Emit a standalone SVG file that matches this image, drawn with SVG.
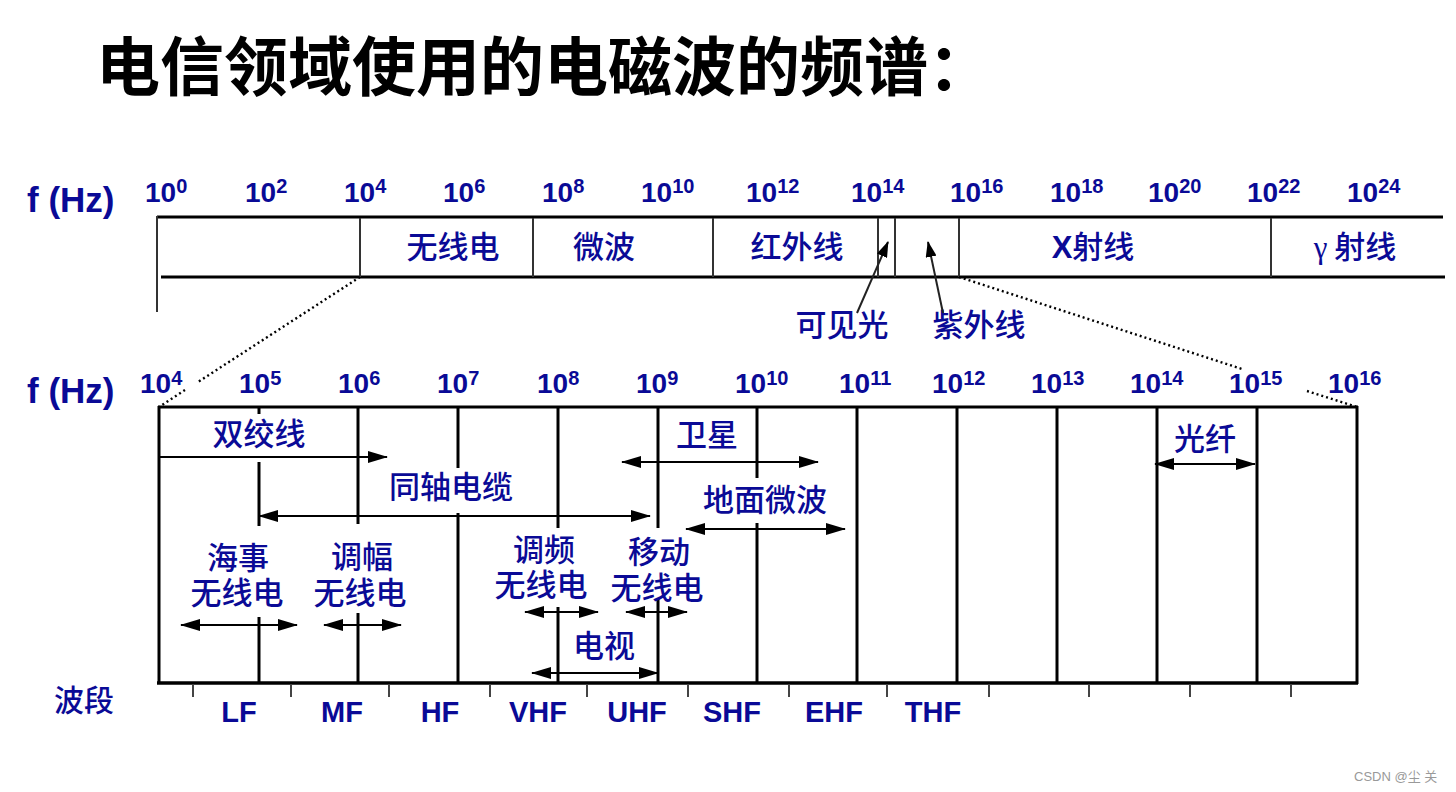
<svg xmlns="http://www.w3.org/2000/svg" width="1456" height="792" viewBox="0 0 1456 792">
<defs>
<style>
.title{font-family:"Noto Sans CJK SC","Noto Sans CJK JP",sans-serif;font-weight:700;font-size:64px;fill:#000}
.axis{font-family:"Liberation Sans",Arial,sans-serif;font-weight:700;font-size:35px;fill:#0a0a96}
.num{font-family:"Liberation Sans",Arial,sans-serif;font-weight:700;font-size:28px;fill:#0a0a96}
.sup{font-size:20px}
.cjk{font-family:"Noto Sans CJK SC","Noto Sans CJK JP",sans-serif;font-weight:500;font-size:31px;fill:#0a0a96}
.mid{text-anchor:middle}
.lat{font-family:"Liberation Sans",Arial,sans-serif;font-weight:700}
.gam{font-family:"Liberation Serif","Times New Roman",serif;font-weight:400}
.band{font-family:"Liberation Sans",Arial,sans-serif;font-weight:700;font-size:29px;fill:#0a0a96;text-anchor:middle}
.thick{stroke:#000;stroke-width:3;fill:none}
.div{stroke:#333;stroke-width:2;fill:none}
.vl{stroke:#000;stroke-width:3;fill:none}
.tick{stroke:#444;stroke-width:2;fill:none}
.conn{stroke:#000;stroke-width:2;fill:none}
.dba{marker-start:url(#ah);marker-end:url(#ah)}
.sa{marker-end:url(#ah)}
.ptr{stroke:#222;stroke-width:2;fill:none;marker-end:url(#ah2)}
.dot{stroke:#000;stroke-width:2.4;stroke-dasharray:2 3;fill:none}
.wm{font-family:"Liberation Sans","Noto Sans CJK SC",sans-serif;font-size:13px;fill:#999}
</style>
<marker id="ah" markerUnits="userSpaceOnUse" markerWidth="20" markerHeight="12" refX="19" refY="6" orient="auto-start-reverse" viewBox="0 0 20 12">
<path d="M0,0 L20,6 L0,12 z" fill="#000"/>
</marker>
<marker id="ah2" markerUnits="userSpaceOnUse" markerWidth="16" markerHeight="11" refX="15" refY="5.5" orient="auto" viewBox="0 0 16 11">
<path d="M0,0 L16,5.5 L0,11 z" fill="#000"/>
</marker>
</defs>
<rect width="1456" height="792" fill="#fff"/>

<g id="title">
<text class="title" x="96" y="90">电信领域使用的电磁波的频谱：</text>
</g>

<g id="top-spectrum">
<text class="axis" x="27" y="212">f (Hz)</text>
<g id="top-scale" class="num">
<text x="145" y="202">10<tspan class="sup" dy="-9">0</tspan></text>
<text x="245" y="202">10<tspan class="sup" dy="-9">2</tspan></text>
<text x="344" y="202">10<tspan class="sup" dy="-9">4</tspan></text>
<text x="443" y="202">10<tspan class="sup" dy="-9">6</tspan></text>
<text x="542" y="202">10<tspan class="sup" dy="-9">8</tspan></text>
<text x="641" y="202">10<tspan class="sup" dy="-9">10</tspan></text>
<text x="746" y="202">10<tspan class="sup" dy="-9">12</tspan></text>
<text x="851" y="202">10<tspan class="sup" dy="-9">14</tspan></text>
<text x="950" y="202">10<tspan class="sup" dy="-9">16</tspan></text>
<text x="1050" y="202">10<tspan class="sup" dy="-9">18</tspan></text>
<text x="1148" y="202">10<tspan class="sup" dy="-9">20</tspan></text>
<text x="1247" y="202">10<tspan class="sup" dy="-9">22</tspan></text>
<text x="1347" y="202">10<tspan class="sup" dy="-9">24</tspan></text>
</g>
<g id="top-bar">
<line class="thick" x1="157" y1="217" x2="1443" y2="217"/>
<line class="thick" x1="161" y1="277" x2="1445" y2="277"/>
<line class="div" x1="157" y1="216" x2="157" y2="312"/>
<line class="div" x1="360" y1="218" x2="360" y2="277"/>
<line class="div" x1="533" y1="218" x2="533" y2="277"/>
<line class="div" x1="713" y1="218" x2="713" y2="277"/>
<line class="div" x1="878" y1="218" x2="878" y2="277"/>
<line class="div" x1="895" y1="218" x2="895" y2="277"/>
<line class="div" x1="959" y1="218" x2="959" y2="277"/>
<line class="div" x1="1271" y1="218" x2="1271" y2="277"/>
</g>
<g id="band-radio"><text class="cjk mid" x="453" y="258">无线电</text></g>
<g id="band-microwave"><text class="cjk mid" x="604" y="258">微波</text></g>
<g id="band-infrared"><text class="cjk mid" x="797" y="258">红外线</text></g>
<g id="band-xray"><text class="cjk mid" x="1093" y="258"><tspan class="lat">X</tspan>射线</text></g>
<g id="band-gamma"><text class="cjk mid" x="1355" y="258"><tspan class="gam">γ</tspan> 射线</text></g>
<g id="band-visible"><text class="cjk mid" x="842" y="336">可见光</text></g>
<g id="band-uv"><text class="cjk mid" x="979" y="336">紫外线</text></g>
</g>

<g id="connectors">
<line class="ptr" x1="857" y1="313" x2="888" y2="242"/>
<line class="ptr" x1="943" y1="313" x2="928" y2="242"/>
<line class="dot" x1="360" y1="277" x2="198" y2="382"/>
<line class="dot" x1="185" y1="390" x2="159" y2="407"/>
<line class="dot" x1="959" y1="277" x2="1242" y2="369"/>
<line class="dot" x1="1307" y1="391" x2="1357" y2="407"/>
<line class="conn sa" x1="159" y1="457" x2="387" y2="457"/>
<line class="conn dba" x1="259" y1="516" x2="650" y2="516"/>
<line class="conn dba" x1="622" y1="462" x2="818" y2="462"/>
<line class="conn dba" x1="686" y1="529" x2="845" y2="529"/>
<line class="conn dba" x1="1155" y1="464" x2="1255" y2="464"/>
<line class="conn dba" x1="181" y1="625" x2="297" y2="625"/>
<line class="conn dba" x1="324" y1="625" x2="401" y2="625"/>
<line class="conn dba" x1="525" y1="612" x2="598" y2="612"/>
<line class="conn dba" x1="626" y1="612" x2="687" y2="612"/>
<line class="conn dba" x1="532" y1="673" x2="658" y2="673"/>
</g>

<g id="lower-spectrum">
<text class="axis" x="27" y="403">f (Hz)</text>
<g id="lower-scale" class="num">
<text x="140" y="393">10<tspan class="sup" dy="-8">4</tspan></text>
<text x="239" y="393">10<tspan class="sup" dy="-8">5</tspan></text>
<text x="338" y="393">10<tspan class="sup" dy="-8">6</tspan></text>
<text x="437" y="393">10<tspan class="sup" dy="-8">7</tspan></text>
<text x="537" y="393">10<tspan class="sup" dy="-8">8</tspan></text>
<text x="636" y="393">10<tspan class="sup" dy="-8">9</tspan></text>
<text x="735" y="393">10<tspan class="sup" dy="-8">10</tspan></text>
<text x="839" y="393">10<tspan class="sup" dy="-8">11</tspan></text>
<text x="932" y="393">10<tspan class="sup" dy="-8">12</tspan></text>
<text x="1031" y="393">10<tspan class="sup" dy="-8">13</tspan></text>
<text x="1130" y="393">10<tspan class="sup" dy="-8">14</tspan></text>
<text x="1229" y="393">10<tspan class="sup" dy="-8">15</tspan></text>
<text x="1328" y="393">10<tspan class="sup" dy="-8">16</tspan></text>
</g>
<g id="lower-box">
<line class="thick" x1="158" y1="407" x2="1358" y2="407"/>
<line class="thick" x1="157" y1="683" x2="1358" y2="683" style="stroke-width:3.5"/>
<line class="vl" x1="159" y1="406" x2="159" y2="684"/>
<line class="vl" x1="1357" y1="406" x2="1357" y2="684"/>
<line class="vl" x1="259" y1="407" x2="259" y2="414"/>
<line class="vl" x1="259" y1="462" x2="259" y2="526"/>
<line class="vl" x1="259" y1="617" x2="259" y2="683"/>
<line class="vl" x1="358" y1="407" x2="358" y2="524"/>
<line class="vl" x1="358" y1="613" x2="358" y2="683"/>
<line class="vl" x1="458" y1="407" x2="458" y2="468"/>
<line class="vl" x1="458" y1="513" x2="458" y2="683"/>
<line class="vl" x1="558" y1="407" x2="558" y2="528"/>
<line class="vl" x1="558" y1="607" x2="558" y2="683"/>
<line class="vl" x1="658" y1="407" x2="658" y2="528"/>
<line class="vl" x1="658" y1="599" x2="658" y2="683"/>
<line class="vl" x1="757" y1="407" x2="757" y2="478"/>
<line class="vl" x1="757" y1="523" x2="757" y2="683"/>
<line class="vl" x1="857" y1="407" x2="857" y2="683"/>
<line class="vl" x1="957" y1="407" x2="957" y2="683"/>
<line class="vl" x1="1057" y1="407" x2="1057" y2="683"/>
<line class="vl" x1="1157" y1="407" x2="1157" y2="683"/>
<line class="vl" x1="1257" y1="407" x2="1257" y2="683"/>
</g>
<g id="ticks">
<line class="tick" x1="193" y1="684" x2="193" y2="697"/>
<line class="tick" x1="291" y1="684" x2="291" y2="697"/>
<line class="tick" x1="389" y1="684" x2="389" y2="697"/>
<line class="tick" x1="490" y1="684" x2="490" y2="697"/>
<line class="tick" x1="587" y1="684" x2="587" y2="697"/>
<line class="tick" x1="688" y1="684" x2="688" y2="697"/>
<line class="tick" x1="789" y1="684" x2="789" y2="697"/>
<line class="tick" x1="887" y1="684" x2="887" y2="697"/>
<line class="tick" x1="989" y1="684" x2="989" y2="697"/>
<line class="tick" x1="1089" y1="684" x2="1089" y2="697"/>
<line class="tick" x1="1190" y1="684" x2="1190" y2="697"/>
<line class="tick" x1="1291" y1="684" x2="1291" y2="697"/>
</g>
<g id="twisted-pair"><text class="cjk mid" x="259" y="445">双绞线</text></g>
<g id="coax"><text class="cjk mid" x="451" y="498">同轴电缆</text></g>
<g id="satellite"><text class="cjk mid" x="707" y="446">卫星</text></g>
<g id="terrestrial-microwave"><text class="cjk mid" x="765" y="511">地面微波</text></g>
<g id="fiber"><text class="cjk mid" x="1205" y="450">光纤</text></g>
<g id="maritime-radio"><text class="cjk mid"><tspan x="238" y="569">海事</tspan><tspan x="237" y="604">无线电</tspan></text></g>
<g id="am-radio"><text class="cjk mid"><tspan x="362" y="568">调幅</tspan><tspan x="360" y="604">无线电</tspan></text></g>
<g id="fm-radio"><text class="cjk mid"><tspan x="544" y="561">调频</tspan><tspan x="541" y="596">无线电</tspan></text></g>
<g id="mobile-radio"><text class="cjk mid"><tspan x="659" y="563">移动</tspan><tspan x="657" y="599">无线电</tspan></text></g>
<g id="tv"><text class="cjk mid" x="604" y="657">电视</text></g>
<g id="band-names">
<text class="cjk" x="54" y="711" style="font-size:30px">波段</text>
<text class="band" x="239" y="722">LF</text>
<text class="band" x="342" y="722">MF</text>
<text class="band" x="440" y="722">HF</text>
<text class="band" x="538" y="722">VHF</text>
<text class="band" x="637" y="722">UHF</text>
<text class="band" x="732" y="722">SHF</text>
<text class="band" x="834" y="722">EHF</text>
<text class="band" x="933" y="722">THF</text>
</g>
</g>

<text class="wm" x="1354" y="781">CSDN @尘  关</text>
</svg>
